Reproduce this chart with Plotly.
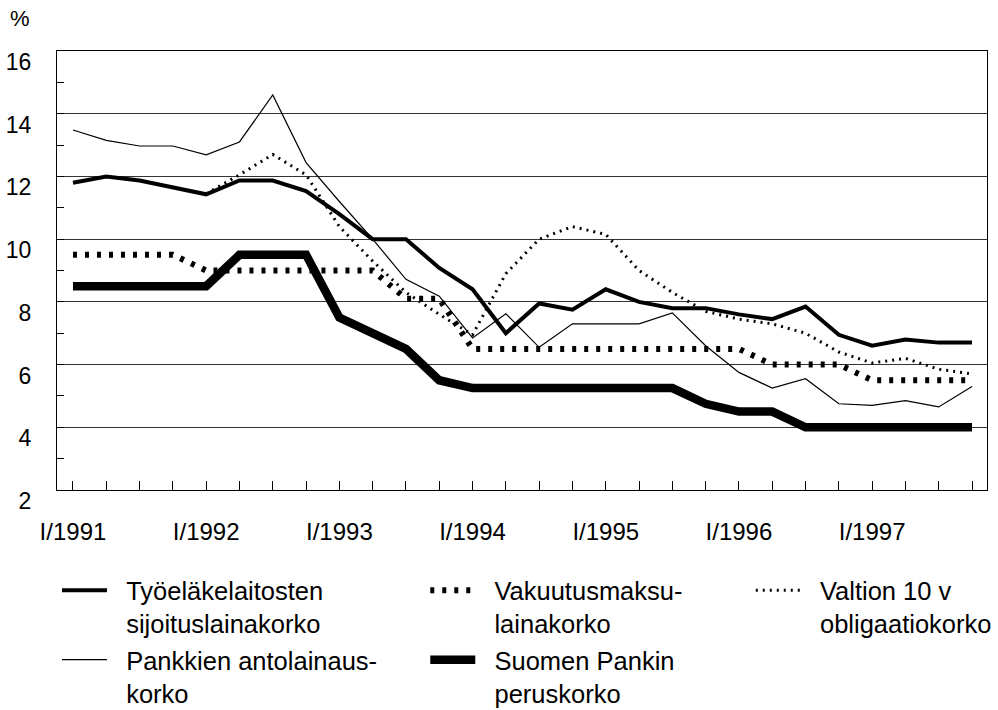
import plotly.graph_objects as go

# ---- data ----
quarters = ["I/1991", "II/1991", "III/1991", "IV/1991",
            "I/1992", "II/1992", "III/1992", "IV/1992",
            "I/1993", "II/1993", "III/1993", "IV/1993",
            "I/1994", "II/1994", "III/1994", "IV/1994",
            "I/1995", "II/1995", "III/1995", "IV/1995",
            "I/1996", "II/1996", "III/1996", "IV/1996",
            "I/1997", "II/1997", "III/1997", "IV/1997"]
tick_labels = ["I/1991", "", "", "", "I/1992", "", "", "", "I/1993", "", "", "",
               "I/1994", "", "", "", "I/1995", "", "", "", "I/1996", "", "", "",
               "I/1997", "", "", ""]

tyoelake = [11.8, 12.0, 11.87, 11.64, 11.43, 11.87, 11.87, 11.53, 10.8, 10.0,
            10.0, 9.08, 8.4, 7.0, 7.95, 7.75, 8.4, 8.0, 7.8, 7.8,
            7.6, 7.45, 7.85, 6.95, 6.6, 6.8, 6.7, 6.7]
pankkien = [13.48, 13.15, 12.97, 12.97, 12.69, 13.1, 14.6, 12.44, 11.2, 10.0,
            8.72, 8.18, 6.85, 7.62, 6.55, 7.3, 7.3, 7.3, 7.65, 6.6,
            5.75, 5.25, 5.55, 4.75, 4.7, 4.85, 4.65, 5.3]
vakuutus = [9.5, 9.5, 9.5, 9.5, 9.0, 9.0, 9.0, 9.0, 9.0, 9.0,
            8.1, 8.1, 6.5, 6.5, 6.5, 6.5, 6.5, 6.5, 6.5, 6.5,
            6.5, 6.0, 6.0, 6.0, 5.5, 5.5, 5.5, 5.5]
peruskorko = [8.5, 8.5, 8.5, 8.5, 8.5, 9.5, 9.5, 9.5, 7.5, 7.0,
              6.5, 5.5, 5.25, 5.25, 5.25, 5.25, 5.25, 5.25, 5.25, 4.75,
              4.5, 4.5, 4.0, 4.0, 4.0, 4.0, 4.0, 4.0]
valtion = [None, None, None, None, 11.45, 12.05, 12.7, 12.05, 10.4, 9.3,
           8.3, 7.6, 6.95, 8.9, 10.0, 10.4, 10.15, 9.0, 8.3, 7.7,
           7.45, 7.3, 7.0, 6.4, 6.05, 6.2, 5.85, 5.7]

PAD = "\u00a0\u00a0"
names = {
    "tyo": PAD + "Työeläkelaitosten<br>" + PAD + "sijoituslainakorko",
    "pan": PAD + "Pankkien antolainaus-<br>" + PAD + "korko",
    "vak": PAD + "Vakuutusmaksu-<br>" + PAD + "lainakorko",
    "suo": PAD + "Suomen Pankin<br>" + PAD + "peruskorko",
    "val": PAD + "Valtion 10 v<br>" + PAD + "obligaatiokorko",
}

FONT = "Liberation Sans, Arial, sans-serif"

fig = go.Figure()
fig.add_trace(go.Scatter(x=quarters, y=pankkien, mode="lines", name=names["pan"],
                         line=dict(color="black", width=1.2),
                         legend="legend", legendgroup="pan", legendrank=2))
fig.add_trace(go.Scatter(x=quarters, y=valtion, mode="lines", name=names["val"],
                         line=dict(color="black", width=3, dash="2px,5px"),
                         legend="legend3", legendgroup="val", legendrank=1))
fig.add_trace(go.Scatter(x=quarters, y=vakuutus, mode="lines", name=names["vak"],
                         line=dict(color="black", width=6, dash="4px,8px"),
                         legend="legend2", legendgroup="vak", legendrank=1))
fig.add_trace(go.Scatter(x=quarters, y=tyoelake, mode="lines", name=names["tyo"],
                         line=dict(color="black", width=4),
                         legend="legend", legendgroup="tyo", legendrank=1))
fig.add_trace(go.Scatter(x=quarters, y=peruskorko, mode="lines", name=names["suo"],
                         line=dict(color="black", width=8.5),
                         legend="legend2", legendgroup="suo", legendrank=2))

leg_common = dict(orientation="v", yanchor="top", xanchor="left", valign="top",
                  font=dict(family=FONT, size=25.5, color="black"),
                  bgcolor="rgba(0,0,0,0)", tracegroupgap=12, itemwidth=45,
                  traceorder="normal")

fig.update_layout(
    width=998, height=710,
    margin=dict(l=57, r=11, t=51, b=220, autoexpand=False),
    paper_bgcolor="white", plot_bgcolor="white",
    font=dict(family=FONT, size=23, color="black"),
    showlegend=True,
    legend=dict(x=0.0, y=-0.176, **leg_common),
    legend2=dict(x=0.396, y=-0.176, **leg_common),
    legend3=dict(x=0.746, y=-0.176, **leg_common),
    xaxis=dict(type="category", range=[-0.48, 27.45], automargin=False,
               tickmode="array", tickvals=quarters, ticktext=tick_labels,
               ticks="inside", ticklen=9, tickcolor="black", tickwidth=1,
               showgrid=False, zeroline=False,
               showline=True, linecolor="black", linewidth=1.2, mirror=True,
               tickfont=dict(family=FONT, size=24, color="black"),
               ticklabelstandoff=20),
    yaxis=dict(range=[2, 16], tickmode="array", automargin=False,
               tickvals=[2, 4, 6, 8, 10, 12, 14, 16],
               ticks="inside", ticklen=7, tickcolor="black", tickwidth=1,
               minor=dict(tickvals=[3, 5, 7, 9, 11, 13, 15], ticks="inside",
                          ticklen=7, tickcolor="black", showgrid=False),
               showgrid=True, gridcolor="#333333", gridwidth=1,
               zeroline=False,
               showline=True, linecolor="black", linewidth=1.2, mirror=True,
               tickfont=dict(family=FONT, size=23, color="black"),
               ticklabelstandoff=20, ticklabelshift=11),
)

fig.add_annotation(text="%", xref="paper", yref="paper",
                   x=-0.04, y=1.075, xanchor="center", yanchor="middle",
                   showarrow=False, font=dict(family=FONT, size=22, color="black"))

fig.write_html("out.html", config={"displayModeBar": False},
               post_script="document.body.style.margin='0';document.body.style.padding='0';")
